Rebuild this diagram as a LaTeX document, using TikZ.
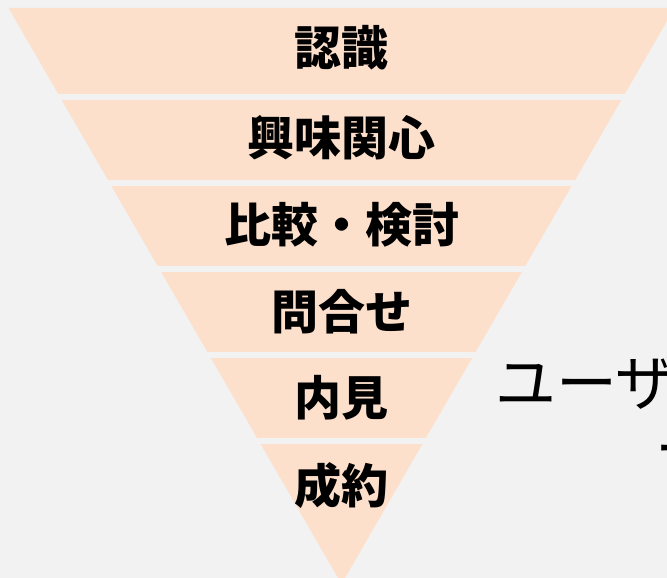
\documentclass[tikz,border=0pt]{standalone}
\usepackage{fontspec}
\newfontfamily\jp{Noto Sans CJK JP}
\definecolor{bgc}{HTML}{F2F2F2}
\definecolor{peach}{HTML}{FDE0CC}
\tikzset{
  stage/.style={anchor=base, font=\jp\bfseries\fontsize{47}{50}\selectfont, text=black, inner sep=0pt},
  side/.style={anchor=base west, font=\jp\fontsize{61}{64}\selectfont, text=black, inner sep=0pt}
}
\begin{document}
\begin{tikzpicture}[x=1pt,y=-1pt]
\fill[bgc] (0,0) rectangle (667,578);
\useasboundingbox (0,0) rectangle (667,578);
% funnel
\fill[peach] (8.5,8) -- (674.5,8) -- (341.5,584) -- cycle;
% gaps between bands
\foreach \g in {94,180,266,352,438}
  \fill[bgc] (0,\g) rectangle (680,\g+6);
% labels
\node[stage] (s1) at (341.5,66) {認識};
\node[stage] (s2) at (341.5,155) {興味関心};
\node[stage] (s3) at (341.5,242) {比較・検討};
\node[stage] (s4) at (341.5,329) {問合せ};
\node[stage] (s5) at (341.5,415) {内見};
\node[stage] (s6) at (341.5,503) {成約};
% side text (cut off at right edge)
\node[side] (t1) at (495,405) {ユーザー};
\node[side] (t2) at (655,471) {ー};
\end{tikzpicture}
\end{document}
